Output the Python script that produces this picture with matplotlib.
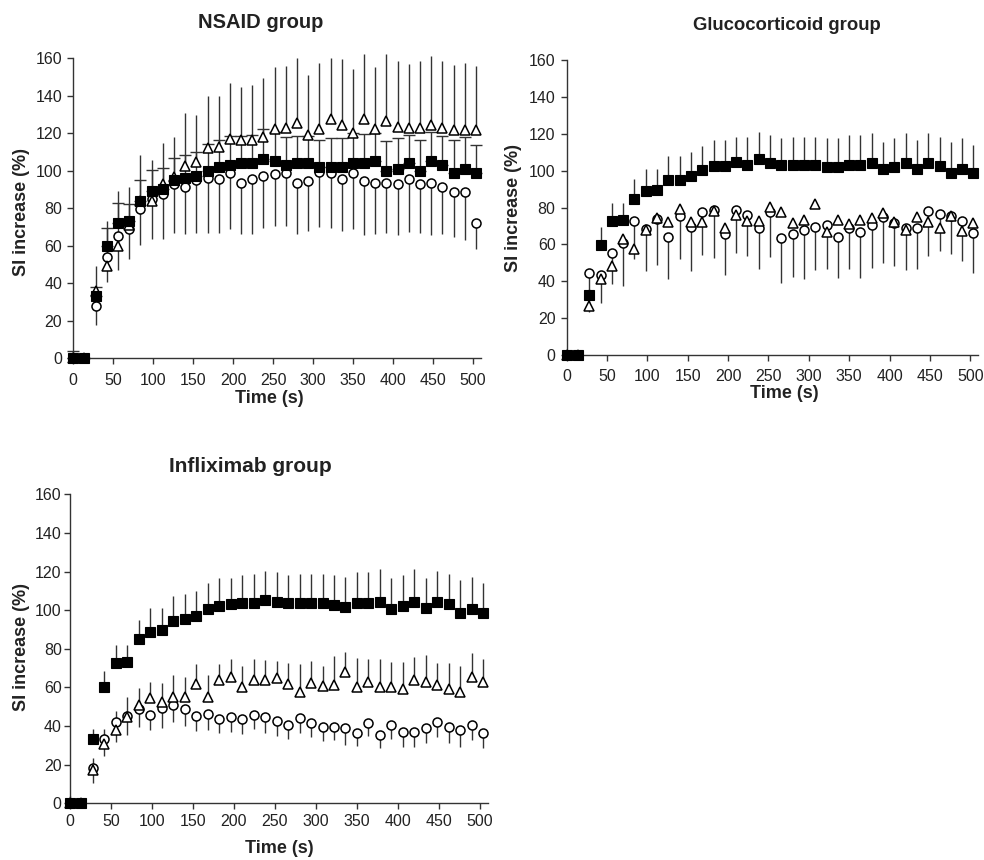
import matplotlib
matplotlib.use("Agg")
import matplotlib.pyplot as plt

plt.rcParams["font.family"] = ["Liberation Sans", "DejaVu Sans"]

# time points (s)
time_s = [0, 14, 28, 42, 56, 70, 84, 98, 112, 126, 140, 154, 168, 182, 196, 210, 224, 238,
          252, 266, 280, 294, 308, 322, 336, 350, 364, 378, 392, 406, 420, 434, 448, 462,
          476, 490, 504]

# ---- NSAID group ----
nsaid_sq = [0, 0, 33, 60, 72, 73, 84, 89, 90, 95, 96, 97, 100, 102, 103, 104, 104, 106,
            105, 103, 104, 104, 102, 102, 102, 104, 104, 105, 100, 101, 104, 100, 105, 103,
            99, 101, 99]
nsaid_sq_err = [4, 0, 5, 9.3, 10.7, 9.4, 10.8, 11.6, 11.3, 12, 12.3, 13, 14, 14.2, 15.5,
                14.6, 15, 16, 15.5, 15.2, 14.5, 14.5, 14.5, 15.7, 15.7, 16, 15.6, 15, 15.8,
                16.5, 15, 16.5, 15.7, 15.6, 17.6, 17, 14.8]
nsaid_tri = [0, 0, 36, 49, 60, 71, 84, 84, 93, 96.5, 102.5, 104.5, 112, 112.5, 117, 116.2,
             116.2, 118, 122.5, 123, 125.5, 119, 122, 127.4, 124.3, 120.3, 127.4, 122, 126.5,
             123.5, 122.6, 122.6, 124.3, 122.6, 121.7, 121.7, 121.7]
nsaid_tri_err = [0, 0, 13, 24, 29, 20.5, 24.4, 21.5, 21.6, 21.7, 28.5, 25.2, 28, 27.4, 29.6,
                 28.7, 29.5, 31.3, 32.7, 33, 34.5, 32, 35.7, 32.6, 35.1, 33.8, 35, 33.2, 35.9,
                 35.2, 34.4, 36.1, 36.9, 36.1, 34.7, 36, 34.2]
nsaid_cir = [0, 0, 28, 54, 65, 69, 79.4, 84.7, 87.8, 92.8, 91.4, 95, 95.9, 95.5, 98.8, 93.7,
             95.4, 97.2, 98.1, 98.8, 93.6, 94.5, 99.5, 98.6, 95.4, 99, 94.5, 93.6, 93.6, 92.7,
             95.4, 92.7, 93.6, 91.4, 88.8, 88.8, 71.9]
nsaid_cir_err = [0, 0, 10.4, 13.3, 18, 16.3, 19.1, 21.3, 24.4, 26, 25.4, 28.2, 28.9, 28.5,
                 29.9, 27.7, 29.3, 27.7, 27.7, 28.4, 27.5, 26.7, 29.8, 29.1, 27.5, 30.3, 28.9,
                 27.5, 26.8, 27.1, 28, 25.9, 28, 25.3, 24.1, 25.9, 13.5]

# ---- Glucocorticoid group ----
gluco_sq = [0, 0, 32.8, 59.5, 72.5, 73.5, 84.5, 88.8, 89.7, 94.8, 94.8, 97.3, 100.2, 102.7,
            102.5, 104.5, 103.3, 106.2, 104, 103.1, 103.1, 103.1, 103.1, 102.1, 102.1, 103.1,
            103.1, 104, 100.7, 101.8, 104.3, 100.7, 104.3, 102.5, 98.8, 100.7, 98.8]
gluco_sq_err = [0, 0, 3, 10, 10, 9, 11, 12, 11, 13, 13, 13, 13, 14, 14, 14, 15, 15, 15.3,
                14.4, 15.3, 15.3, 15.3, 15.4, 15.4, 16.2, 16.2, 16.6, 15, 15.7, 16.3, 15.9,
                16.3, 15.9, 16.9, 16.8, 15.1]
gluco_tri = [0, 0, 26.5, 41, 48.2, 63, 57.6, 68, 74.2, 72, 79.2, 72.4, 72.4, 78.3, 69, 76.2,
             72.9, 72.9, 80.5, 77.4, 71.4, 73.2, 81.9, 66.9, 73.2, 70.9, 73.2, 74.1, 76.9,
             72.3, 67.8, 74.6, 72.3, 68.7, 75.6, 67.5, 71.6]
gluco_cir = [0, 0, 44.5, 43.5, 55.3, 61, 72.7, 68.4, 73.8, 64.2, 75.6, 69.3, 77.4, 78.7,
             65.8, 78.5, 76, 69, 77.8, 63.2, 65.4, 67.8, 69.6, 70.5, 64.2, 68.7, 66.9, 70.5,
             75.1, 71.8, 68.7, 68.7, 78.1, 76.5, 75.6, 72.9, 66.3]
gluco_cir_err = [0, 0, 21.2, 15.2, 16.7, 23.3, 20.5, 23.1, 24.9, 22.9, 23.4, 23.5, 23.1,
                 26.2, 22.2, 23, 22.4, 22.5, 24.5, 24.4, 23.3, 26.8, 23.5, 24.1, 22.7, 22.3,
                 25.4, 23.2, 25.1, 23.5, 22.6, 22.3, 24.4, 20.1, 21, 21.7, 22]

# ---- Infliximab group ----
infli_sq = [0, 0, 33.1, 60.1, 72.5, 73.4, 84.9, 88.9, 89.7, 94.6, 95.4, 97.2, 100.4, 102.3,
            103.2, 103.8, 103.8, 105.3, 104.4, 103.6, 103.6, 103.6, 103.6, 102.7, 101.8,
            103.6, 103.6, 104.4, 100.4, 102.2, 104.4, 101.3, 104.4, 103, 98.7, 100.4, 98.7]
infli_sq_err = [4, 0, 5.2, 8.6, 9.5, 8.6, 10, 12.1, 11.3, 12.8, 13, 12.7, 13.5, 14.2, 13.3,
                14.4, 14.9, 15.2, 15.2, 14.6, 15.1, 15.1, 15.1, 15.5, 15.6, 16, 16.4, 16.9,
                16.1, 16, 16.9, 15.2, 16.1, 15.7, 16.9, 17, 15.2]
infli_tri = [0, 0, 17.3, 30.7, 38, 44.9, 50.9, 54.4, 52.6, 55.2, 55.2, 61.8, 55.2, 63.9, 65.2,
             60.2, 63.7, 63.9, 64.7, 61.8, 57.8, 62.1, 60.8, 61.3, 68.2, 60.1, 63, 60.1, 60.1,
             59, 63.9, 63, 61.3, 59, 57.8, 65.2, 63]
infli_tri_err = [0, 0, 6, 7.6, 9.8, 10.4, 8.6, 8.6, 9.5, 11.2, 10.4, 10.3, 11.2, 8.2, 9.4,
                 10.9, 10.9, 10.3, 9.2, 11, 14.3, 11.8, 10.3, 15, 10.3, 15, 11.6, 14.5, 13.3,
                 14.4, 12, 13.8, 11.5, 13.8, 13.3, 12.5, 11.6]
infli_cir = [0, 0, 18.1, 33.1, 42.3, 45.2, 48.7, 45.7, 49.2, 50.9, 48.7, 45.2, 46.3, 43.5,
             44.5, 43.8, 45.9, 44.5, 42.8, 40.6, 44, 41.8, 39.7, 39.7, 38.8, 36.2, 41.4, 35.4,
             40.6, 37.1, 37.1, 38.8, 42.3, 39.7, 38, 40.6, 36.2]
infli_cir_err = [0, 0, 7.4, 8.4, 10.7, 10, 9.4, 7.7, 10, 9, 8.6, 8, 8.3, 6.9, 7.4, 7.9, 7.6,
                 7.9, 7.9, 7.5, 7.4, 7.6, 7.3, 6.9, 8.6, 6.5, 6.5, 6.9, 7.5, 7.8, 7.8, 7.4, 8.1,
                 8.6, 8.7, 7.8, 7.7]

zeros = [0] * len(time_s)
ink = "#222222"
bar_col = "#333333"


def panel(ax, title_xy, title, title_size, sq, sq_err, tri, tri_err, cir, cir_err, caps,
          ylab_xy, xlab_xy, xpad, ypad):
    # error bars (one sided): squares and triangles up, circles down
    ax.errorbar(time_s, sq, yerr=[zeros, sq_err], fmt="none", ecolor=bar_col, elinewidth=1,
                capsize=4.5 if caps else 0, capthick=1, clip_on=False, zorder=1)
    if tri_err is not None:
        ax.errorbar(time_s, tri, yerr=[zeros, tri_err], fmt="none", ecolor=bar_col,
                    elinewidth=1, clip_on=False, zorder=1)
    ax.errorbar(time_s, cir, yerr=[cir_err, zeros], fmt="none", ecolor=bar_col,
                elinewidth=1, clip_on=False, zorder=1)
    ax.plot(time_s, cir, "o", ms=6.5, mfc="white", mec="black", mew=1.1, ls="none",
            clip_on=False, zorder=3)
    ax.plot(time_s, tri, "^", ms=7.5, mfc="white", mec="black", mew=1.1, ls="none",
            clip_on=False, zorder=4)
    ax.plot(time_s, sq, "s", ms=7, mfc="black", mec="black", mew=0.8, ls="none",
            clip_on=False, zorder=5)

    ax.set_xlim(0, 510)
    ax.set_ylim(0, 160)
    ax.set_xticks(range(0, 501, 50))
    ax.set_yticks(range(0, 161, 20))
    for side in ("top", "right"):
        ax.spines[side].set_visible(False)
    for side in ("left", "bottom"):
        ax.spines[side].set_color(bar_col)
        ax.spines[side].set_linewidth(1)
    ax.tick_params(direction="out", length=4, width=1, color=bar_col, labelsize=11.5,
                   labelcolor=ink)
    ax.tick_params(axis="x", pad=xpad)
    ax.tick_params(axis="y", pad=ypad)
    ax.set_ylabel("SI increase (%)", fontsize=13, fontweight="bold", color=ink, va="center")
    ax.yaxis.set_label_coords(*ylab_xy)
    ax.set_xlabel("Time (s)", fontsize=13, fontweight="bold", color=ink, va="center")
    ax.xaxis.set_label_coords(*xlab_xy)
    fig.text(title_xy[0] / 984, 1 - title_xy[1] / 860, title, ha="center", va="center",
             fontsize=title_size, fontweight="bold", color=ink)


fig = plt.figure(figsize=(9.84, 8.6), dpi=100)

ax1 = fig.add_axes([0.0745, 0.5837, 0.414, 0.3485])
panel(ax1, (261, 22), "NSAID group", 14.5, nsaid_sq, nsaid_sq_err, nsaid_tri, nsaid_tri_err,
      nsaid_cir, nsaid_cir_err, True, (-0.127, 0.488), (0.48, -0.135), 6.5, 4)

ax2 = fig.add_axes([0.5759, 0.5872, 0.4183, 0.343])
panel(ax2, (787, 25), "Glucocorticoid group", 13.3, gluco_sq, gluco_sq_err, gluco_tri, None,
      gluco_cir, gluco_cir_err, False, (-0.13, 0.498), (0.528, -0.13), 6, 4)

ax3 = fig.add_axes([0.0711, 0.0659, 0.425, 0.3593])
panel(ax3, (250, 467), "Infliximab group", 15, infli_sq, infli_sq_err, infli_tri,
      infli_tri_err, infli_cir, infli_cir_err, False, (-0.1155, 0.506), (0.5, -0.145), 4, 2)

fig.savefig("out.png", dpi=100)
